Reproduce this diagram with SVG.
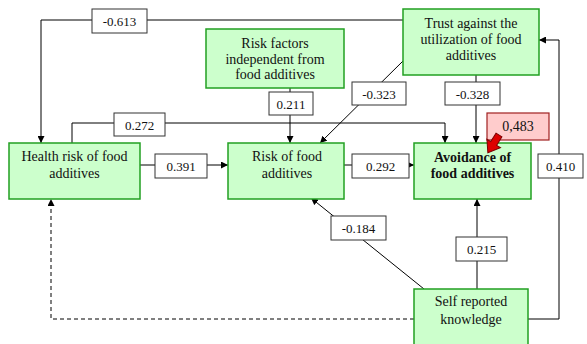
<svg xmlns="http://www.w3.org/2000/svg" width="587" height="344" viewBox="0 0 587 344">
<defs>
<marker id="ah" viewBox="0 0 10 10" refX="10" refY="5" markerWidth="7" markerHeight="7" orient="auto" markerUnits="userSpaceOnUse">
<path d="M0,0 L10,5 L0,10 z" fill="#000"/>
</marker>
</defs>
<style>
.node{fill:#ccffcc;stroke:#22a022;stroke-width:1.5}
.lbl{fill:#fff;stroke:#333;stroke-width:1}
text{font-family:"Liberation Serif","DejaVu Serif",serif;font-size:13px;fill:#111;text-anchor:middle}
.n{font-size:14px}
.b{font-weight:bold}
.c{fill:none;stroke:#000;stroke-width:1}
.d{fill:none;stroke:#000;stroke-width:1;stroke-dasharray:4,3}
</style>
<rect width="587" height="344" fill="#fff"/>
<g id="connectors">
<path class="c" d="M403,20 H41 V143" marker-end="url(#ah)"/>
<path class="c" d="M290,88 V143" marker-end="url(#ah)"/>
<path class="c" d="M72,143 V123 H445 V143" marker-end="url(#ah)"/>
<path class="c" d="M140,165 H228" marker-end="url(#ah)"/>
<path class="c" d="M344,165 H414" marker-end="url(#ah)"/>
<path class="c" d="M403,61 L320,143" marker-end="url(#ah)"/>
<path class="c" d="M476,75 V143" marker-end="url(#ah)"/>
<path class="c" d="M528,319 H559 V40 H539" marker-end="url(#ah)"/>
<path class="c" d="M477,289 V199" marker-end="url(#ah)"/>
<path class="c" d="M424,289 L311,198" marker-end="url(#ah)"/>
<path class="d" d="M414,319 H51 V199" marker-end="url(#ah)"/>
</g>
<g id="labels">
<g id="l-613"><rect class="lbl" x="92" y="9" width="55" height="24"/><text x="119.5" y="26">-0.613</text></g>
<g id="l211"><rect class="lbl" x="269" y="92" width="44" height="23"/><text x="291" y="108.5">0.211</text></g>
<g id="l272"><rect class="lbl" x="114" y="113" width="51" height="23"/><text x="139.5" y="129.5">0.272</text></g>
<g id="l391"><rect class="lbl" x="155" y="154" width="52" height="24"/><text x="181" y="170.5">0.391</text></g>
<g id="l292"><rect class="lbl" x="352" y="154" width="57" height="24"/><text x="380.5" y="170.5">0.292</text></g>
<g id="l-323"><rect class="lbl" x="352" y="82" width="54" height="23"/><text x="379" y="98.5">-0.323</text></g>
<g id="l-328"><rect class="lbl" x="445" y="82" width="55" height="23"/><text x="472.5" y="98.5">-0.328</text></g>
<g id="l410"><rect class="lbl" x="538" y="154" width="45" height="24"/><text x="560.5" y="170.5">0.410</text></g>
<g id="l215"><rect class="lbl" x="456" y="237" width="51" height="24"/><text x="481.5" y="253.5">0.215</text></g>
<g id="l-184"><rect class="lbl" x="331" y="216" width="55" height="24"/><text x="358.5" y="232.5">-0.184</text></g>
</g>
<g id="n-riskfactors"><rect class="node" x="206" y="29" width="138" height="59"/>
<text class="n" x="275" y="47.5">Risk factors</text><text class="n" x="275" y="63.5">independent from</text><text class="n" x="275" y="79">food additives</text></g>
<g id="n-trust"><rect class="node" x="403" y="9" width="136" height="66"/>
<text class="n" x="471" y="28">Trust against the</text><text class="n" x="471" y="43.5">utilization of food</text><text class="n" x="471" y="59.5">additives</text></g>
<g id="n-health"><rect class="node" x="9" y="143" width="131" height="56"/>
<text class="n" x="74.5" y="161">Health risk of food</text><text class="n" x="74.5" y="177.5">additives</text></g>
<g id="n-risk"><rect class="node" x="228" y="143" width="116" height="56"/>
<text class="n" x="287" y="161">Risk of food</text><text class="n" x="287" y="177.5">additives</text></g>
<g id="n-avoid"><rect class="node" x="414" y="143" width="117" height="56"/>
<text class="n b" x="472.5" y="162">Avoidance of</text><text class="n b" x="472.5" y="178">food additives</text></g>
<g id="n-self"><rect class="node" x="414" y="289" width="114" height="58"/>
<text class="n" x="471" y="306">Self reported</text><text class="n" x="471" y="323.5">knowledge</text></g>
<g id="r2">
<rect x="487" y="113" width="62" height="27" fill="#ffcccc" stroke="#a02020" stroke-width="1.2"/>
<text class="n" x="518" y="131">0,483</text>
<polygon points="0,-3.5 10,-3.5 10,-8 21,0 10,8 10,3.5 0,3.5" fill="#dd0000" stroke="#7a0000" stroke-width="1" transform="translate(499,135) rotate(122)"/>
</g>
</svg>
